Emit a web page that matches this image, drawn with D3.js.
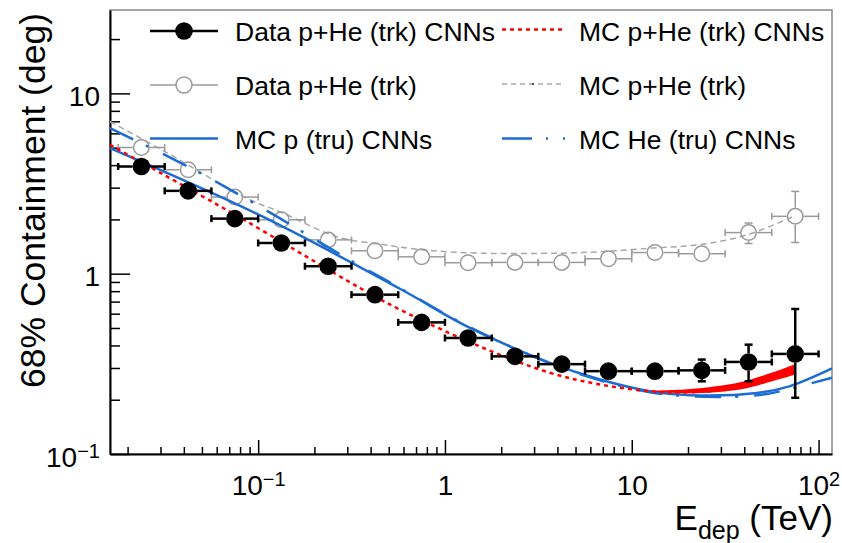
<!DOCTYPE html>
<html>
<head>
<meta charset="utf-8">
<script src="https://cdn.jsdelivr.net/npm/d3@7"></script>
<style>
  body { margin: 0; background: #fff; }
  svg { display: block; font-family: 'Liberation Sans', Arial, Helvetica, sans-serif; }
</style>
</head>
<body>
<div id="chart"></div>
<script>
// Energy bins (TeV), 4 per decade
const binEdges = [0.0178, 0.0316, 0.0562, 0.1, 0.178, 0.316, 0.562, 1, 1.78, 3.16, 5.62, 10, 17.8, 31.6, 56.2, 100]
const binCenters = [0.0237, 0.0422, 0.075, 0.133, 0.237, 0.422, 0.75, 1.33, 2.37, 4.22, 7.5, 13.3, 23.7, 42.2, 75]

// Data p+He (trk) CNNs (filled)
const dataCnn = [3.93, 2.88, 2.02, 1.48, 1.10, 0.765, 0.537, 0.440, 0.348, 0.315, 0.288, 0.288, 0.291, 0.324, 0.359]
const dataCnnErrLo = [0.04, 0.03, 0.02, 0.02, 0.015, 0.01, 0.008, 0.008, 0.006, 0.006, 0.008, 0.012, 0.038, 0.071, 0.154]
const dataCnnErrHi = [0.04, 0.03, 0.02, 0.02, 0.015, 0.01, 0.008, 0.008, 0.006, 0.006, 0.008, 0.012, 0.043, 0.080, 0.278]

// Data p+He (trk) (open)
const dataTrk = [5.01, 3.77, 2.66, 1.99, 1.54, 1.34, 1.24, 1.15, 1.155, 1.155, 1.21, 1.31, 1.29, 1.69, 2.08]
const dataTrkErrLo = [0.05, 0.04, 0.03, 0.02, 0.02, 0.02, 0.02, 0.02, 0.02, 0.02, 0.03, 0.03, 0.04, 0.22, 0.59]
const dataTrkErrHi = [0.05, 0.04, 0.03, 0.02, 0.02, 0.02, 0.02, 0.02, 0.02, 0.02, 0.03, 0.03, 0.04, 0.22, 0.78]

// MC p+He (trk) CNNs (red dotted) and its band
const mcCnnE = [0.0161, 0.0778, 0.351, 0.574, 1.60, 3.65, 6.76, 12.5, 20.5, 38, 57, 75]
const mcCnnV = [5.18, 2.08, 0.833, 0.632, 0.388, 0.282, 0.243, 0.223, 0.220, 0.233, 0.260, 0.288]
const bandE = [12.5, 20.5, 38, 57, 75]
const bandLo = [0.222, 0.217, 0.228, 0.254, 0.276]
const bandHi = [0.224, 0.229, 0.250, 0.284, 0.316]

// MC p+He (trk) (grey dashed)
const mcTrkE = [0.0161, 0.0316, 0.0902, 0.136, 0.2325, 0.31, 0.467, 0.735, 1.54, 4.13, 7.35, 13.05, 23.2, 41.3, 73.5]
const mcTrkV = [6.98, 4.76, 2.57, 2.17, 1.68, 1.54, 1.45, 1.36, 1.30, 1.30, 1.33, 1.39, 1.45, 1.64, 2.08]

// MC p (tru) CNNs (blue solid)
const mcPE = [0.0161, 0.1, 0.574, 1.31, 3.65, 6.76, 12.5, 20.5, 46.7, 70.4, 118]
const mcPV = [4.97, 2.13, 0.825, 0.511, 0.320, 0.259, 0.223, 0.212, 0.218, 0.238, 0.298]

// MC He (tru) CNNs (blue long dash-dot)
const mcHeE = [0.0161, 0.0458, 0.1255, 0.171, 0.33, 0.574, 1.31, 3.65, 6.76, 12.5, 20.5, 36.2, 52.8, 76.3, 118]
const mcHeV = [6.42, 3.75, 2.08, 1.715, 1.146, 0.833, 0.515, 0.318, 0.256, 0.220, 0.209, 0.208, 0.215, 0.235, 0.265]

// Axis ticks and labels
const xMajorTicks = [0.1, 1, 10, 100]
const xTickBase = ['10', '1', '10', '10']
const xTickExp = ['\u22121', '', '', '2']
const yMajorTicks = [0.1, 1, 10]
const yTickBase = ['10', '1', '10']
const yTickExp = ['\u22121', '', '']
const xMinorTicks = [0.02, 0.03, 0.04, 0.05, 0.06, 0.07, 0.08, 0.09, 0.2, 0.3, 0.4, 0.5, 0.6, 0.7, 0.8, 0.9,
    2, 3, 4, 5, 6, 7, 8, 9, 20, 30, 40, 50, 60, 70, 80, 90]
const yMinorTicks = [0.2, 0.3, 0.4, 0.5, 0.6, 0.7, 0.8, 0.9, 2, 3, 4, 5, 6, 7, 8, 9, 20]

const config = {
    width: 842,
    height: 543,
    frame: { left: 110, right: 832, top: 10, bottom: 454 },
    blue: '#1c6cd4',
    red: '#ff0000',
    grey: '#a8a8a8',
}

const svg = d3.select('#chart')
    .append('svg')
    .attr('width', config.width)
    .attr('height', config.height)

const f = config.frame
const x = d3.scaleLog().domain([0.0161, 118]).range([f.left, f.right])
const y = d3.scaleLog().domain([0.1, 29]).range([f.bottom, f.top])

// frame
svg.append('rect')
    .attr('x', f.left).attr('y', f.top)
    .attr('width', f.right - f.left).attr('height', f.bottom - f.top)
    .attr('fill', 'none').attr('stroke', '#888').attr('stroke-width', 1.5)

// minor ticks (inside)
svg.append('g')
    .attr('transform', `translate(0,${f.bottom})`)
    .call(d3.axisBottom(x).tickValues(xMinorTicks).tickSize(-7).tickSizeOuter(0).tickFormat(() => ''))
    .call(g => g.select('.domain').remove())
svg.append('g')
    .attr('transform', `translate(${f.left},0)`)
    .call(d3.axisLeft(y).tickValues(yMinorTicks).tickSize(-10).tickSizeOuter(0).tickFormat(() => ''))
    .call(g => g.select('.domain').remove())

// major ticks + labels
const xAxis = svg.append('g')
    .attr('transform', `translate(0,${f.bottom})`)
    .call(d3.axisBottom(x).tickValues(xMajorTicks).tickSize(-14).tickSizeOuter(0).tickPadding(21).tickFormat(() => ''))
const yAxis = svg.append('g')
    .attr('transform', `translate(${f.left},0)`)
    .call(d3.axisLeft(y).tickValues(yMajorTicks).tickSize(-20).tickSizeOuter(0).tickPadding(10).tickFormat(() => ''))

svg.selectAll('.tick line').attr('stroke', '#000').attr('stroke-width', 1.5)
svg.selectAll('.domain').attr('stroke', '#000').attr('stroke-width', 2)

function powerLabel(sel, base, exp) {
    sel.each(function (d, i) {
        const t = d3.select(this).text(null)
            .attr('font-size', 28).attr('fill', '#000')
        t.append('tspan').text(base[i])
        if (exp[i]) t.append('tspan').attr('font-size', 20).attr('dy', -9).text(exp[i])
    })
}
xAxis.selectAll('.tick text').call(powerLabel, xTickBase, xTickExp)
yAxis.selectAll('.tick text').attr('dy', '0.43em').call(powerLabel, yTickBase, yTickExp)

// axis titles
svg.append('text')
    .attr('transform', 'translate(45,13) rotate(-90)')
    .attr('text-anchor', 'end')
    .attr('font-size', 35.5)
    .text('68% Containment (deg)')

const xTitle = svg.append('text')
    .attr('x', 833).attr('y', 530)
    .attr('text-anchor', 'end')
    .attr('font-size', 35)
xTitle.append('tspan').text('E')
xTitle.append('tspan').attr('font-size', 25).attr('dy', 9).text('dep')
xTitle.append('tspan').attr('dy', -9).text(' (TeV)')

// curves
const plot = svg.append('g')
const lineOf = (es, vs) => d3.line()
    .x(d => x(d[0])).y(d => y(d[1]))
    .curve(d3.curveCatmullRom.alpha(0.5))(d3.zip(es, vs))

// grey dashed MC
plot.append('path')
    .attr('d', lineOf(mcTrkE, mcTrkV))
    .attr('fill', 'none').attr('stroke', config.grey)
    .attr('stroke-width', 1.5).attr('stroke-dasharray', '6,4')

// error bars + markers
function drawPoints(vals, lo, hi, color, width, r, filled) {
    const segs = []
    vals.forEach((v, i) => {
        const cx = x(binCenters[i]), cy = y(v)
        const xl = x(binEdges[i]), xr = x(binEdges[i + 1])
        const yt = y(v + hi[i]), yb = y(v - lo[i])
        segs.push([xl, cy, cx - r, cy], [cx + r, cy, xr, cy])
        segs.push([xl, cy - 3.5, xl, cy + 3.5], [xr, cy - 3.5, xr, cy + 3.5])
        if (yt < cy - r) segs.push([cx, yt, cx, cy - r], [cx - 4, yt, cx + 4, yt])
        if (yb > cy + r) segs.push([cx, cy + r, cx, yb], [cx - 4, yb, cx + 4, yb])
    })
    const g = plot.append('g')
    g.selectAll('line').data(segs).join('line')
        .attr('x1', d => d[0]).attr('y1', d => d[1])
        .attr('x2', d => d[2]).attr('y2', d => d[3])
        .attr('stroke', color).attr('stroke-width', width)
    g.selectAll('circle').data(vals).join('circle')
        .attr('cx', (d, i) => x(binCenters[i]))
        .attr('cy', d => y(d))
        .attr('r', filled ? r : r - 0.75)
        .attr('fill', filled ? color : 'none')
        .attr('stroke', color).attr('stroke-width', filled ? 0 : 1.5)
}
drawPoints(dataTrk, dataTrkErrLo, dataTrkErrHi, '#9a9a9a', 1.5, 8.5, false)

// blue MC truth curves
plot.append('path')
    .attr('d', lineOf(mcPE, mcPV))
    .attr('fill', 'none').attr('stroke', config.blue).attr('stroke-width', 2.5)
plot.append('path')
    .attr('d', lineOf(mcHeE, mcHeV))
    .attr('fill', 'none').attr('stroke', config.blue).attr('stroke-width', 2.5)
    .attr('stroke-dasharray', '26,14,3,16')

// red band + dotted line
plot.append('path')
    .attr('d', d3.area()
        .x(d => x(d[0])).y0(d => y(d[1])).y1(d => y(d[2]))
        .curve(d3.curveCatmullRom.alpha(0.5))(d3.zip(bandE, bandLo, bandHi)))
    .attr('fill', config.red)
plot.append('path')
    .attr('d', lineOf(mcCnnE, mcCnnV))
    .attr('fill', 'none').attr('stroke', config.red)
    .attr('stroke-width', 2.5).attr('stroke-dasharray', '4,4')

drawPoints(dataCnn, dataCnnErrLo, dataCnnErrHi, '#000', 2.5, 8.8, true)

// legend
const legendRows = [31, 85, 138.5]
const leg = svg.append('g').attr('font-size', 26.5)
const legText = (lx, ly, s) => leg.append('text').attr('x', lx).attr('y', ly + 10).text(s)

leg.append('line').attr('x1', 150).attr('x2', 218).attr('y1', legendRows[0]).attr('y2', legendRows[0])
    .attr('stroke', '#000').attr('stroke-width', 2.5)
leg.append('circle').attr('cx', 184).attr('cy', legendRows[0]).attr('r', 8.8).attr('fill', '#000')
legText(235, legendRows[0], 'Data p+He (trk) CNNs')

leg.append('line').attr('x1', 150).attr('x2', 218).attr('y1', legendRows[1]).attr('y2', legendRows[1])
    .attr('stroke', '#9a9a9a').attr('stroke-width', 1.5)
leg.append('circle').attr('cx', 184).attr('cy', legendRows[1]).attr('r', 8)
    .attr('fill', '#fff').attr('stroke', '#9a9a9a').attr('stroke-width', 1.5)
legText(235, legendRows[1], 'Data p+He (trk)')

leg.append('line').attr('x1', 150).attr('x2', 218).attr('y1', legendRows[2]).attr('y2', legendRows[2])
    .attr('stroke', config.blue).attr('stroke-width', 2.5)
legText(235, legendRows[2], 'MC p (tru) CNNs')

leg.append('line').attr('x1', 502).attr('x2', 565).attr('y1', legendRows[0] - 1.5).attr('y2', legendRows[0] - 1.5)
    .attr('stroke', config.red).attr('stroke-width', 2.5).attr('stroke-dasharray', '4,4')
legText(579, legendRows[0], 'MC p+He (trk) CNNs')

leg.append('line').attr('x1', 502).attr('x2', 565).attr('y1', legendRows[1] - 1).attr('y2', legendRows[1] - 1)
    .attr('stroke', config.grey).attr('stroke-width', 1.5).attr('stroke-dasharray', '5,4')
leg.append('circle').attr('cx', 533).attr('cy', legendRows[1] - 1).attr('r', 1).attr('fill', '#333')
legText(579, legendRows[1], 'MC p+He (trk)')

leg.append('line').attr('x1', 502).attr('x2', 567).attr('y1', legendRows[2]).attr('y2', legendRows[2])
    .attr('stroke', config.blue).attr('stroke-width', 2.5).attr('stroke-dasharray', '30,14,2,15,2,20')
legText(579, legendRows[2], 'MC He (tru) CNNs')
</script>
</body>
</html>
